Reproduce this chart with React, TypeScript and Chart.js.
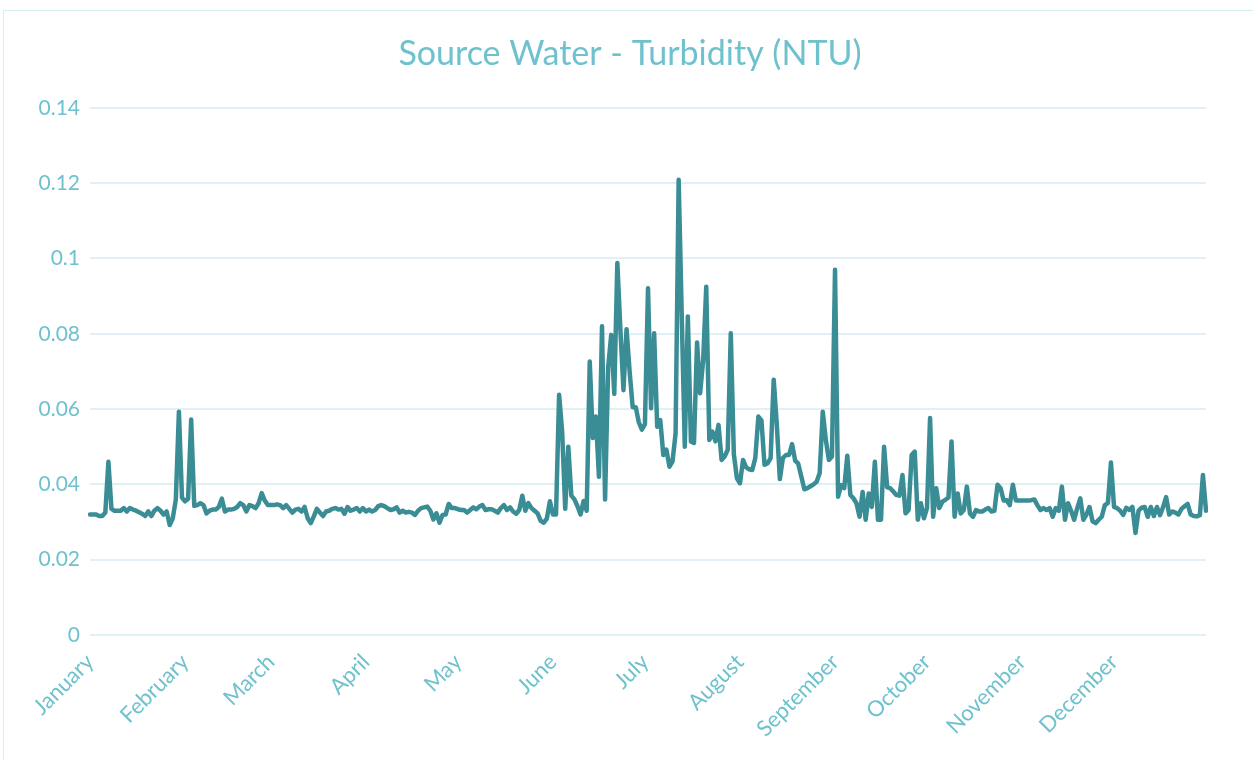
import React, { useEffect, useRef } from "react";
import { Chart, registerables } from "chart.js";

Chart.register(...registerables);

const TITLE = "Source Water - Turbidity (NTU)";
const monthNames = [
  "January", "February", "March", "April", "May", "June",
  "July", "August", "September", "October", "November", "December",
];

// Daily turbidity readings (NTU), one array per month
const jan = [0.032, 0.032, 0.032, 0.0316, 0.0316, 0.0325, 0.046, 0.0335, 0.033, 0.033, 0.033, 0.0337, 0.0328, 0.0337, 0.0333, 0.033, 0.0326, 0.0322, 0.0316, 0.0328, 0.0316, 0.033, 0.0337, 0.033, 0.032, 0.0328, 0.0292, 0.031, 0.036, 0.0593, 0.0365];
const feb = [0.0355, 0.0362, 0.0572, 0.0343, 0.0345, 0.035, 0.0345, 0.0323, 0.033, 0.0333, 0.0333, 0.034, 0.0362, 0.0328, 0.0333, 0.0333, 0.0335, 0.034, 0.035, 0.0345, 0.0328, 0.0345, 0.0342, 0.0337, 0.035, 0.0377, 0.0357, 0.0345];
const mar = [0.0345, 0.0345, 0.0347, 0.0345, 0.0337, 0.0345, 0.0335, 0.0325, 0.0333, 0.0335, 0.0328, 0.034, 0.031, 0.0297, 0.0315, 0.0335, 0.0325, 0.0316, 0.0328, 0.033, 0.0335, 0.0337, 0.0333, 0.0335, 0.0322, 0.034, 0.033, 0.0333, 0.0337, 0.0328, 0.0337];
const apr = [0.0328, 0.0333, 0.0328, 0.0332, 0.0342, 0.0345, 0.0342, 0.0337, 0.0332, 0.0334, 0.0339, 0.0325, 0.033, 0.0325, 0.0327, 0.0325, 0.0319, 0.033, 0.0337, 0.0339, 0.0341, 0.033, 0.0307, 0.0323, 0.0298, 0.0319, 0.032, 0.0348, 0.0337, 0.0337];
const may = [0.0334, 0.0332, 0.0332, 0.0325, 0.0332, 0.0339, 0.0334, 0.0341, 0.0345, 0.0332, 0.0334, 0.0334, 0.033, 0.0325, 0.0337, 0.0345, 0.0332, 0.0339, 0.0328, 0.0322, 0.0332, 0.037, 0.033, 0.035, 0.0337, 0.033, 0.0323, 0.0303, 0.0298, 0.0309, 0.0355];
const jun = [0.032, 0.032, 0.0638, 0.054, 0.0335, 0.05, 0.037, 0.036, 0.0342, 0.032, 0.0356, 0.033, 0.0726, 0.0523, 0.058, 0.042, 0.082, 0.036, 0.071, 0.0797, 0.064, 0.0988, 0.081, 0.065, 0.0812, 0.07, 0.0605, 0.0605, 0.0565, 0.0545];
const jul = [0.056, 0.0921, 0.0602, 0.0801, 0.0553, 0.0571, 0.0478, 0.0492, 0.0447, 0.0461, 0.0536, 0.1209, 0.085, 0.05, 0.0846, 0.0514, 0.051, 0.0777, 0.0642, 0.0731, 0.0925, 0.0518, 0.054, 0.0514, 0.0558, 0.0465, 0.0474, 0.0492, 0.0801, 0.048, 0.0416];
const aug = [0.0403, 0.0465, 0.0445, 0.044, 0.0438, 0.047, 0.058, 0.057, 0.0452, 0.0456, 0.047, 0.0678, 0.056, 0.0414, 0.047, 0.0478, 0.0478, 0.0507, 0.0463, 0.0455, 0.0421, 0.0387, 0.039, 0.0395, 0.04, 0.0407, 0.043, 0.0593, 0.0518, 0.0465, 0.0474];
const sep = [0.097, 0.0367, 0.0398, 0.039, 0.0476, 0.0372, 0.0363, 0.035, 0.0314, 0.038, 0.0306, 0.0376, 0.034, 0.046, 0.0306, 0.0306, 0.05, 0.0392, 0.039, 0.0381, 0.0372, 0.037, 0.0425, 0.0323, 0.0332, 0.0478, 0.0487, 0.0306, 0.035, 0.031];
const oct = [0.0337, 0.0576, 0.0314, 0.039, 0.0337, 0.0354, 0.0359, 0.0365, 0.0514, 0.0314, 0.0376, 0.0323, 0.0332, 0.0394, 0.0323, 0.0314, 0.0332, 0.0328, 0.0328, 0.0333, 0.0337, 0.0328, 0.033, 0.0399, 0.039, 0.0357, 0.0358, 0.0345, 0.0399, 0.0357, 0.0357];
const nov = [0.0357, 0.0357, 0.0357, 0.0358, 0.036, 0.0345, 0.0332, 0.0337, 0.0332, 0.0337, 0.0314, 0.0337, 0.033, 0.0394, 0.0306, 0.035, 0.033, 0.0306, 0.0337, 0.0363, 0.0306, 0.032, 0.034, 0.0302, 0.0297, 0.0306, 0.0314, 0.0345, 0.035, 0.0458];
const dec = [0.034, 0.0337, 0.033, 0.0319, 0.0338, 0.0332, 0.034, 0.0271, 0.033, 0.0338, 0.034, 0.0314, 0.034, 0.0316, 0.034, 0.0318, 0.034, 0.0366, 0.032, 0.0328, 0.0325, 0.032, 0.0335, 0.0342, 0.0348, 0.032, 0.0316, 0.0315, 0.0318, 0.0425, 0.033];

const months = [jan, feb, mar, apr, may, jun, jul, aug, sep, oct, nov, dec];
const yTicks = [0, 0.02, 0.04, 0.06, 0.08, 0.1, 0.12, 0.14];

const values: number[] = months.flat();
const dayLabels: string[] = months.flatMap((m, mi) => m.map((_, di) => `${monthNames[mi]} ${di + 1}`));
const monthStarts: number[] = [];
months.reduce((acc, m) => { monthStarts.push(acc); return acc + m.length; }, 0);

const TEXT = "#6fc2cd";
const GRID = "#dff1f5";
const LINE = "#3a8d95";
const FONT = "Lato, 'Open Sans', sans-serif";

export default function App() {
  const ref = useRef<HTMLCanvasElement | null>(null);
  useEffect(() => {
    if (!ref.current) return;
    const chart = new Chart(ref.current, {
      type: "line",
      data: {
        labels: dayLabels,
        datasets: [{
          data: values,
          borderColor: LINE,
          borderWidth: 4.5,
          pointRadius: 0,
          tension: 0,
          fill: false,
          borderCapStyle: "round",
          borderJoinStyle: "round",
        }],
      },
      options: {
        responsive: false,
        animation: false,
        layout: { padding: { left: 7, right: 0, top: 0, bottom: 0 } },
        plugins: {
          legend: { display: false },
          tooltip: { enabled: false },
          title: {
            display: true,
            text: TITLE,
            color: TEXT,
            font: { family: FONT, size: 34, weight: "normal" },
            padding: { top: 34, bottom: 33 },
          },
        },
        scales: {
          x: {
            type: "category",
            grid: { display: false },
            border: { display: false },
            ticks: {
              autoSkip: false,
              minRotation: 45,
              maxRotation: 45,
              color: TEXT,
              font: { family: FONT, size: 22 },
              padding: 6,
              callback: (_v: any, i: number) => monthNames[i],
            },
            afterBuildTicks: (s: any) => {
              s.ticks = monthStarts.map((v) => ({ value: v }));
            },
            afterFit: (s: any) => { s.height = 125; },
          },
          y: {
            min: 0,
            max: 0.14,
            afterBuildTicks: (s: any) => {
              s.ticks = yTicks.map((v) => ({ value: v }));
            },
            ticks: {
              color: TEXT,
              font: { family: FONT, size: 21 },
              padding: 10,
              callback: (v: any) => String(Number(Number(v).toFixed(2))),
            },
            grid: { color: GRID, lineWidth: 2, drawTicks: false },
            border: { display: false },
            afterFit: (s: any) => { s.width = 83; },
          },
          yRightSpace: {
            type: "linear",
            position: "right",
            display: true,
            grid: { display: false, drawTicks: false },
            border: { display: false },
            ticks: { display: false },
            afterFit: (s: any) => { s.width = 47; },
          },
        },
      },
    } as any);
    return () => chart.destroy();
  }, []);

  return (
    <div style={{ position: "fixed", left: 0, top: 0, width: 1253, height: 760, background: "#fff", overflow: "hidden" }}>
      <div style={{ position: "absolute", left: 3, top: 10, width: 1270, height: 780, border: "1px solid #d6edf1", boxSizing: "border-box" }} />
      <canvas ref={ref} width={1253} height={760} style={{ position: "absolute", left: 0, top: 0 }} />
    </div>
  );
}
